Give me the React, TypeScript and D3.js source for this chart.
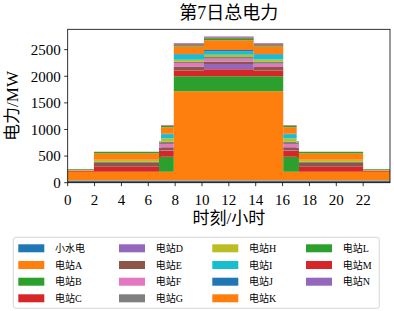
import React from "react";
import * as d3 from "d3";

// Time segments (hours) – each value holds from its start until the next start
const segStart = [0, 1.95, 6.8, 6.95, 7.9, 10.15, 13.85, 16.05, 17.05, 17.22, 22.0];
const tEnd = 24;

const seriesNames = ["小水电", "电站A", "电站B", "电站C", "电站D", "电站E", "电站F", "电站G", "电站H", "电站I", "电站J", "电站K", "电站L", "电站M", "电站N"];

const sXiaoShuiDian = [35, 35, 35, 35, 35, 35, 35, 35, 35, 35, 35];
const sA = [170, 170, 170, 170, 1685, 1685, 1685, 170, 170, 170, 170];
const sB = [0, 0, 280, 282, 280, 280, 280, 282, 280, 0, 0];
const sC = [15, 95, 112, 112, 110, 130, 110, 112, 112, 95, 15];
const sD = [0, 0, 5, 10, 0, 100, 0, 10, 5, 0, 0];
const sE = [5, 85, 55, 55, 75, 45, 65, 55, 55, 85, 5];
const sF = [0, 0, 60, 65, 62, 55, 62, 65, 60, 0, 0];
const sG = [0, 10, 30, 40, 25, 30, 35, 40, 30, 10, 0];
const sH = [5, 35, 20, 60, 40, 45, 45, 60, 20, 35, 5];
const sI = [0, 0, 10, 80, 95, 60, 90, 80, 10, 0, 0];
const sJ = [0, 0, 0, 10, 10, 30, 10, 10, 0, 0, 0];
const sK = [10, 125, 0, 125, 140, 180, 140, 125, 0, 125, 10];
const sL = [12, 25, 0, 20, 25, 40, 25, 20, 0, 25, 12];
const sM = [0, 0, 0, 10, 20, 15, 20, 10, 0, 0, 0];
const sN = [0, 0, 0, 5, 20, 15, 20, 5, 0, 0, 0];

const seriesValues = [sXiaoShuiDian, sA, sB, sC, sD, sE, sF, sG, sH, sI, sJ, sK, sL, sM, sN];

const xTicks = [0, 2, 4, 6, 8, 10, 12, 14, 16, 18, 20, 22];
const yTicks = [0, 500, 1000, 1500, 2000, 2500];

const tab10 = ["#1f77b4", "#ff7f0e", "#2ca02c", "#d62728", "#9467bd", "#8c564b", "#e377c2", "#7f7f7f", "#bcbd22", "#17becf"];

const W = 394, H = 311;
const left = 67.7, right = 390, top = 29.3, bottom = 182.7;
const FONT = "'Liberation Serif', 'Noto Sans CJK SC', serif";

export default function App() {
  const rows: any[] = segStart.map((t, i) => {
    const r: any = { t };
    seriesNames.forEach((n, k) => (r[n] = seriesValues[k][i]));
    return r;
  });
  const last: any = { ...rows[rows.length - 1], t: tEnd };
  rows.push(last);

  const stacked = d3.stack<any>().keys(seriesNames)(rows);
  const maxY = d3.max(stacked[stacked.length - 1], (d) => d[1]) as number;

  const x = d3.scaleLinear().domain([0, tEnd]).range([left, right]);
  const y = d3.scaleLinear().domain([0, maxY * 1.05]).range([bottom, top]);

  const area = d3
    .area<any>()
    .x((d) => x(d.data.t))
    .y0((d) => y(d[0]))
    .y1((d) => y(d[1]))
    .curve(d3.curveStepAfter);

  const colX = [18.3, 119, 212.3, 306];
  const rowY = [248.3, 265, 281.7, 298.3];

  return (
    <svg width={W} height={H} style={{ position: "absolute", left: 0, top: 0, display: "block" }} fontFamily={FONT}>
      <rect x={0} y={0} width={W} height={H} fill="white" />
      {stacked.map((s, i) => (
        <path key={i} d={area(s) || ""} fill={tab10[i % 10]} />
      ))}
      <rect x={left} y={top} width={right - left} height={bottom - top} fill="none" stroke="#000" strokeWidth={0.8} />
      {xTicks.map((t) => (
        <g key={t}>
          <line x1={x(t)} x2={x(t)} y1={bottom} y2={bottom + 3.5} stroke="#000" strokeWidth={0.8} />
          <text x={x(t)} y={205} textAnchor="middle" fontSize={15}>{t}</text>
        </g>
      ))}
      {yTicks.map((v) => (
        <g key={v}>
          <line x1={left - 3.5} x2={left} y1={y(v)} y2={y(v)} stroke="#000" strokeWidth={0.8} />
          <text x={left - 7} y={y(v)} dy="0.35em" textAnchor="end" fontSize={15}>{v}</text>
        </g>
      ))}
      <text x={(left + right) / 2} y={19} textAnchor="middle" fontSize={18}>第7日总电力</text>
      <text x={(left + right) / 2} y={224} textAnchor="middle" fontSize={17}>时刻/小时</text>
      <text transform={`translate(18,${(top + bottom) / 2}) rotate(-90)`} textAnchor="middle" fontSize={17}>电力/MW</text>
      <rect x={13.3} y={237.3} width={366} height={71} rx={2.5} fill="white" fillOpacity={0.8} stroke="#cccccc" strokeWidth={0.8} />
      {seriesNames.map((n, i) => {
        const c = Math.floor(i / 4), r = i % 4;
        return (
          <g key={n}>
            <rect x={colX[c]} y={rowY[r] - 4} width={26} height={8} fill={tab10[i % 10]} />
            <text x={colX[c] + 36.7} y={rowY[r]} dy="0.35em" fontSize={10}>{n}</text>
          </g>
        );
      })}
    </svg>
  );
}
